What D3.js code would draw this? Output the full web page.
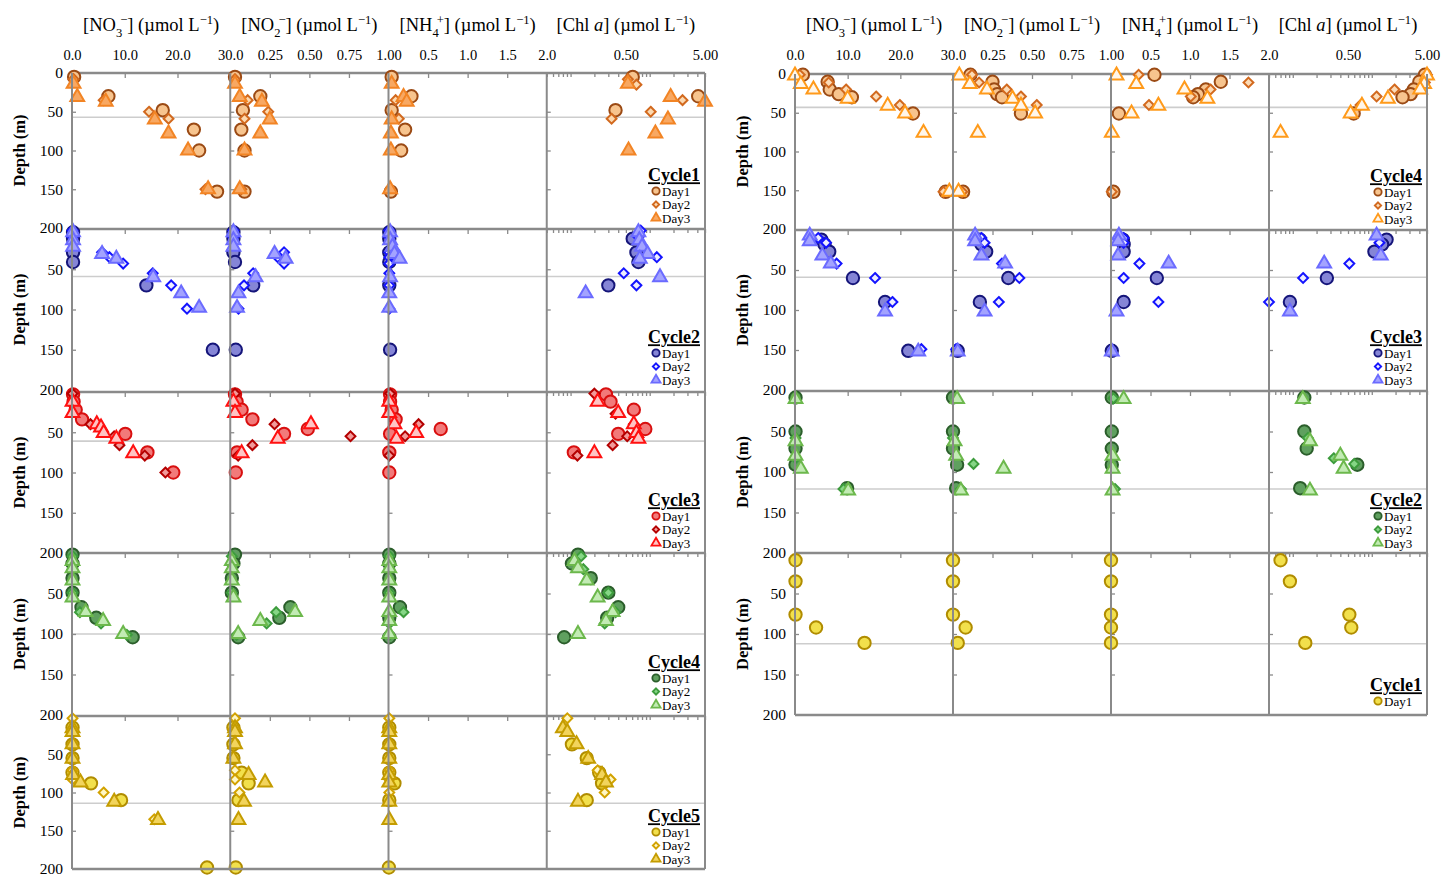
<!DOCTYPE html>
<html>
<head>
<meta charset="utf-8">
<script src="https://cdn.jsdelivr.net/npm/d3@7"></script>
<style>
  body { margin: 0; background: #fff; }
  svg text { font-family: "Liberation Serif", "Times New Roman", serif; fill: #000; }
</style>
</head>
<body>
<script>
// each row: [depth (m), NO3, NO2, NH4, Chl a]
const L1_day1 = [[5,0.4,0.03,0.04,0.61],[30,6.9,0.19,0.29,4.1],[48,17.2,0.08,0.04,0.37],[73,23.1,0.07,0.21,null],[100,24.1,0.09,0.16,null],[153,27.5,0.09,0.03,null]];
const L1_day2 = [[8,0.3,0.03,null,0.53],[15,null,null,null,0.68],[35,6.0,0.11,0.09,2.6],[50,14.6,0.24,null,1.03],[59,18.3,0.09,0.13,0.33],[150,25.3,0.07,null,null]];
const L1_day3 = [[14,0.3,0.03,0.04,0.53],[31,1.0,0.06,0.19,1.84],[37,6.4,0.20,0.23,5.0],[60,15.7,0.25,0.04,1.7],[78,18.3,0.19,0.03,1.18],[100,22.0,0.09,0.03,0.54],[150,25.8,0.06,0.02,null]];

const L2_day1 = [[4,0.2,0.02,0.01,null],[12,0.2,0.02,0.01,0.61],[29,0.2,0.02,0.01,0.68],[41,0.2,0.03,0.01,0.72],[70,14.1,0.145,0.01,0.30],[150,26.7,0.035,0.02,null]];
const L2_day2 = [[2,0.1,0.02,0.01,0.77],[10,0.1,0.02,0.01,0.72],[29,5.7,0.34,0.01,null],[35,7.1,0.30,0.01,1.23],[43,9.7,0.34,0.01,null],[55,15.3,0.145,0.01,0.47],[70,18.8,0.087,0.01,0.68],[99,21.8,0.052,0.01,null]];
const L2_day3 = [[4,0.2,0.02,0.02,0.72],[14,0.2,0.02,0.02,0.74],[22,0.2,0.02,0.05,0.80],[31,5.7,0.28,0.075,0.94],[37,8.4,0.35,0.14,0.75],[60,15.4,0.16,0.02,1.35],[80,20.7,0.052,0.01,0.155],[98,24.1,0.043,0.01,null]];

const L3_day1 = [[3,0.2,0.03,0.02,0.28],[12,0.3,0.04,0.02,0.32],[22,0.7,0.072,0.04,0.63],[34,1.9,0.14,0.09,null],[46,null,0.49,0.66,0.88],[52,10.1,0.34,0.02,0.40],[75,14.3,0.043,0.01,0.11],[100,19.2,0.035,0.01,null]];
const L3_day2 = [[2,0.1,0.03,0.02,0.20],[27,null,null,null,0.37],[40,3.5,0.28,0.38,0.63],[55,8.0,0.76,0.21,0.52],[66,9.0,0.14,null,0.34],[79,13.8,0.05,0.01,0.122],[100,17.7,null,null,null]];
const L3_day3 = [[12,0.1,0.02,0.01,0.22],[26,0.1,0.03,0.01,0.40],[40,4.7,0.51,0.075,0.63],[44,5.5,null,null,null],[51,6.0,null,0.35,0.68],[58,8.4,0.30,0.10,0.72],[76,11.6,0.072,null,0.20]];

const L4_day1 = [[2,0.1,0.03,0.01,0.124],[13,0.1,0.02,0.01,0.104],[31,0.1,0.01,0.01,0.18],[49,0.1,0.01,0.01,0.30],[67,1.8,0.38,0.145,0.40],[80,4.6,0.31,0.01,0.29],[104,11.5,0.05,0.01,0.083]];
const L4_day2 = [[4,0.1,0.01,0.01,0.136],[20,0.1,0.01,0.01,0.145],[49,0.1,0.01,0.01,0.30],[73,1.5,0.29,0.19,0.37],[87,5.5,0.23,0.01,0.27],[101,10.4,0.04,0.01,null]];
const L4_day3 = [[10,0.1,0.01,0.01,0.112],[19,0.1,0.01,0.01,0.124],[34,0.1,0.01,0.01,0.16],[55,0.1,0.02,0.01,0.22],[73,2.6,0.41,0.01,0.34],[84,5.9,0.19,0.01,0.28],[100,9.7,0.05,0.01,0.124]];

const L5_day1 = [[15,0.1,0.02,0.01,null],[37,0.1,0.02,0.01,0.104],[55,0.1,0.02,0.01,0.16],[74,0.1,0.072,0.01,0.23],[88,3.6,0.116,0.075,0.25],[110,9.3,0.052,0.01,0.16],[198,25.6,0.035,0.005,null]];
const L5_day2 = [[3,0.1,0.03,0.01,0.091],[17,0.1,0.02,0.01,null],[71,0.1,0.03,0.01,0.22],[83,0.1,0.03,0.01,0.32],[100,6.0,0.058,0.01,0.27],[135,15.6,null,null,null]];
const L5_day3 = [[16,0.1,0.03,0.01,0.08],[21,0.1,0.03,0.01,0.091],[37,0.1,0.03,0.01,0.119],[56,0.1,0.02,0.01,0.167],[77,0.2,0.116,0.01,0.25],[87,1.6,0.22,0.01,0.28],[112,8.0,0.087,0.01,0.124],[136,16.3,0.052,0.01,null]];

const R4_day1 = [[1,1.5,0.11,0.55,4.7],[10,6.2,0.25,1.39,4.0],[20,6.6,0.26,1.2,3.4],[26,8.3,0.28,1.1,3.1],[30,10.8,0.31,1.04,2.45],[51,22.4,0.43,0.1,0.59],[152,28.6,0.064,0.03,null]];
const R4_day2 = [[1,0.9,0.12,0.35,5.0],[11,6.4,0.165,1.74,4.7],[20,9.7,0.34,1.26,1.94],[29,15.4,0.43,1.01,1.15],[40,19.9,0.53,0.48,0.72],[152,28.2,0.058,0.01,null]];
const R4_day3 = [[2,0.0,0.04,0.07,5.0],[13,1.1,0.107,0.32,4.6],[20,3.5,0.215,0.93,4.1],[32,10.0,0.377,1.22,1.6],[41,17.6,0.43,0.6,0.75],[51,20.9,0.52,0.26,0.54],[76,24.4,0.157,0.01,0.07],[152,29.3,0.035,null,null]];

const R3_day1 = [[12,5.0,0.17,0.15,1.54],[18,5.6,0.18,0.16,1.35],[27,6.5,0.21,0.16,1.08],[60,11.0,0.35,0.58,0.27],[90,17.1,0.17,0.16,0.092],[151,21.5,0.03,0.01,null]];
const R3_day2 = [[10,4.4,0.18,0.16,null],[16,5.9,0.20,0.16,1.25],[42,7.9,0.31,0.36,0.52],[60,15.2,0.42,0.16,0.135],[90,18.5,0.29,0.6,0.05],[149,24.0,0.02,null,null]];
const R3_day3 = [[7,2.8,0.14,0.1,1.15],[14,2.8,0.14,0.09,null],[32,5.2,0.18,0.09,1.3],[42,6.8,0.33,0.73,0.25],[102,17.1,0.2,0.07,0.092],[152,23.4,0.03,0.01,null]];

const R2_day1 = [[8,0.1,0.0,0.01,0.14],[50,0.1,0.0,0.01,0.14],[71,0.1,0.0,0.01,0.15],[91,0.1,0.026,0.01,0.656],[120,9.9,0.02,null,0.124]];
const R2_day2 = [[9,null,null,0.03,null],[58,0.1,0.0,null,0.155],[83,0.1,null,null,0.33],[90,null,0.13,null,0.6],[121,9.2,0.05,0.05,null]];
const R2_day3 = [[10,0.1,0.026,0.16,0.134],[62,0.1,0.01,null,0.165],[80,0.1,0.02,0.02,0.40],[96,1.1,0.32,0.02,0.44],[123,10.1,0.05,0.02,0.165]];

const R1_day1 = [[9,0.1,0.0,0.0,0.07],[35,0.1,0.0,0.0,0.092],[76,0.1,0.0,0.0,0.52],[92,4.0,0.08,0.0,0.55],[111,13.2,0.03,0.0,0.144]];

const leftCycles = ['Cycle1', 'Cycle2', 'Cycle3', 'Cycle4', 'Cycle5'];
const rightCycles = ['Cycle4', 'Cycle3', 'Cycle2', 'Cycle1'];
const dayLabels = ['Day1', 'Day2', 'Day3'];
const leftMld = [57, 59, 61, 100, 114];
const rightMld = [43, 59, 121, 112];

const depthTicks = [0, 50, 100, 150, 200];
const xDomains = [[0, 30], [0, 1], [0, 2], [0.05, 5]];
const xLabelTicks = [[0, 10, 20, 30], [0.25, 0.5, 0.75, 1], [0.5, 1, 1.5, 2], [0.5, 5]];
const xLabelFormats = ['.1f', '.2f', '.1f', '.2f'];

const palettes = {
  orange: [{fill: '#f7c48e', stroke: '#9b4a14'}, {fill: '#fcd9b0', stroke: '#d2691e'}, {fill: '#f8a862', stroke: '#f28424'}],
  orangeOpen: [{fill: '#f7c48e', stroke: '#9b4a14'}, {fill: '#fcdcb8', stroke: '#d2691e'}, {fill: '#fff6ea', stroke: '#ff9a1a'}],
  blue: [{fill: '#8585d6', stroke: '#15157a'}, {fill: '#eeeeff', stroke: '#1414ff'}, {fill: '#a3a3ff', stroke: '#6b6bff'}],
  red: [{fill: '#f27a7a', stroke: '#d80f0f'}, {fill: '#f29a9a', stroke: '#b40000'}, {fill: '#ffc4c4', stroke: '#ff1010'}],
  green: [{fill: '#5fa05f', stroke: '#2b5e2b'}, {fill: '#86d686', stroke: '#3d9c3d'}, {fill: '#c2ebb4', stroke: '#6cb84c'}],
  gold: [{fill: '#f2e04c', stroke: '#b08c00'}, {fill: '#fff7c4', stroke: '#d2a200'}, {fill: '#f2d45c', stroke: '#c49c00'}]
};

const panels = [
  {x0: 72, x1: 705, tops: [73, 229, 392, 553, 716], bottoms: [228, 390, 553, 715, 869],
   cycles: leftCycles, mld: leftMld, pal: ['orange', 'blue', 'red', 'green', 'gold'],
   days: [[L1_day1, L1_day2, L1_day3], [L2_day1, L2_day2, L2_day3], [L3_day1, L3_day2, L3_day3],
          [L4_day1, L4_day2, L4_day3], [L5_day1, L5_day2, L5_day3]]},
  {x0: 795, x1: 1427, tops: [74, 230, 391, 553], bottoms: [229, 390, 553, 715],
   cycles: rightCycles, mld: rightMld, pal: ['orangeOpen', 'blue', 'green', 'gold'],
   days: [[R4_day1, R4_day2, R4_day3], [R3_day1, R3_day2, R3_day3], [R2_day1, R2_day2, R2_day3], [R1_day1]]}
];

const titleParts = [
  [{t: '[NO'}, {t: '3', sub: 1}, {t: '−', sup: 1, dx: -2}, {t: '] (µmol L'}, {t: '−1', sup: 1}, {t: ')'}],
  [{t: '[NO'}, {t: '2', sub: 1}, {t: '−', sup: 1, dx: -2}, {t: '] (µmol L'}, {t: '−1', sup: 1}, {t: ')'}],
  [{t: '[NH'}, {t: '4', sub: 1}, {t: '+', sup: 1, dx: -2}, {t: '] (µmol L'}, {t: '−1', sup: 1}, {t: ')'}],
  [{t: '[Chl '}, {t: 'a', it: 1}, {t: '] (µmol L'}, {t: '−1', sup: 1}, {t: ')'}]
];

const symbols = [d3.symbolCircle, d3.symbolDiamond2, d3.symbolTriangle];
const symSizes = [120, 62, 82];
const legSizes = [42, 26, 36];
const frameColor = '#8a8a8a';

const svg = d3.select('body').append('svg').attr('width', 1441).attr('height', 876);

function richText(g, x, y, parts, size) {
  const t = g.append('text').attr('x', x).attr('y', y)
    .attr('text-anchor', 'middle').style('font-size', size + 'px');
  let shift = 0;
  parts.forEach(p => {
    const target = p.sub ? 6 : p.sup ? -7 : 0;
    const ts = t.append('tspan').text(p.t).attr('dy', target - shift);
    if (p.sub || p.sup) ts.style('font-size', (size * 0.68) + 'px');
    if (p.dx) ts.attr('dx', p.dx);
    if (p.it) ts.style('font-style', 'italic');
    shift = target;
  });
}

panels.forEach(panel => {
  const cw = (panel.x1 - panel.x0) / 4;
  const edges = d3.range(5).map(i => panel.x0 + i * cw);
  const xScales = xDomains.map((dom, i) => {
    const s = i === 3 ? d3.scaleLog() : d3.scaleLinear();
    return s.domain(dom).range([edges[i], edges[i + 1]]);
  });
  const g = svg.append('g');
  const nRows = panel.tops.length;
  const yTop = panel.tops[0], yBot = panel.bottoms[nRows - 1];

  // column titles + top tick labels
  titleParts.forEach((parts, i) => richText(g, (edges[i] + edges[i + 1]) / 2, 31, parts, 18.5));
  xScales.forEach((s, i) => {
    const ax = g.append('g').attr('transform', `translate(0, 62)`)
      .call(d3.axisTop(s).tickValues(xLabelTicks[i]).tickFormat(d3.format(xLabelFormats[i])).tickSize(0).tickPadding(2));
    ax.select('.domain').remove();
    ax.selectAll('text').style('font-size', '14.5px').style('font-family', '"Liberation Serif", serif');
  });

  panel.tops.forEach((top, r) => {
    const bottom = panel.bottoms[r];
    const y = d3.scaleLinear().domain([0, 200]).range([top, bottom]);
    const row = g.append('g');

    // mixed layer line
    row.append('line')
      .attr('x1', panel.x0).attr('x2', panel.x1)
      .attr('y1', y(panel.mld[r])).attr('y2', y(panel.mld[r]))
      .attr('stroke', '#cdcdcd').attr('stroke-width', 1.6);

    // depth axis labels
    const yAx = row.append('g').attr('transform', `translate(${panel.x0}, 0)`)
      .call(d3.axisLeft(y).tickValues(r === 0 ? depthTicks : depthTicks.slice(1)).tickSize(0).tickPadding(9));
    yAx.select('.domain').remove();
    yAx.selectAll('text').style('font-size', '15.5px').style('font-family', '"Liberation Serif", serif');

    row.append('text')
      .attr('transform', `translate(${panel.x0 - 47}, ${(top + bottom) / 2}) rotate(-90)`)
      .attr('text-anchor', 'middle')
      .style('font-size', '16.5px').style('font-weight', 'bold')
      .text('Depth (m)');

    // inner ticks
    xScales.forEach((s, i) => {
      const vals = i === 3 ? s.ticks() : xLabelTicks[i].filter(v => v > 0 && v < xDomains[i][1]);
      const tk = row.append('g').attr('transform', `translate(0, ${top})`)
        .call(d3.axisBottom(s).tickValues(vals).tickSize(i === 3 ? 4 : 5).tickFormat(''));
      tk.select('.domain').remove();
      tk.selectAll('line').attr('stroke', frameColor).attr('stroke-width', 1.3);
      const yt = row.append('g').attr('transform', `translate(${edges[i]}, 0)`)
        .call(d3.axisRight(y).tickValues([50, 100, 150]).tickSize(4).tickFormat(''));
      yt.select('.domain').remove();
      yt.selectAll('line').attr('stroke', frameColor).attr('stroke-width', 1.3);
    });

    row.append('line')
      .attr('x1', panel.x0).attr('x2', panel.x1).attr('y1', top).attr('y2', top)
      .attr('stroke', frameColor).attr('stroke-width', 2.6);

    // markers
    const pal = palettes[panel.pal[r]];
    panel.days[r].forEach((rows, d) => {
      xScales.forEach((s, i) => {
        row.selectAll(null)
          .data(rows.filter(v => v[i + 1] !== null))
          .enter().append('path')
          .attr('d', d3.symbol().type(symbols[d]).size(symSizes[d]))
          .attr('transform', v => `translate(${s(i === 3 ? Math.max(v[i + 1], 0.05) : v[i + 1])}, ${y(v[0])})`)
          .attr('fill', pal[d].fill)
          .attr('stroke', pal[d].stroke)
          .attr('stroke-width', 2);
      });
    });

    // legend
    const nd = panel.days[r].length;
    const dayY = d3.range(nd).map(d => bottom - 10 - (nd - 1 - d) * 13.5 - (nd === 1 ? 4 : 0));
    row.append('text')
      .attr('x', panel.x1 - 5).attr('y', dayY[0] - 16).attr('dy', '0.35em')
      .attr('text-anchor', 'end')
      .style('font-size', '18px').style('font-weight', 'bold').style('text-decoration', 'underline')
      .text(panel.cycles[r]);
    dayY.forEach((yy, d) => {
      row.append('path')
        .attr('d', d3.symbol().type(symbols[d]).size(legSizes[d]))
        .attr('transform', `translate(${panel.x1 - 49}, ${yy})`)
        .attr('fill', pal[d].fill).attr('stroke', pal[d].stroke).attr('stroke-width', 1.8);
      row.append('text')
        .attr('x', panel.x1 - 43).attr('y', yy).attr('dy', '0.35em')
        .style('font-size', '13px')
        .text(dayLabels[d]);
    });
  });

  // frame
  g.append('line')
    .attr('x1', panel.x0).attr('x2', panel.x1).attr('y1', yBot).attr('y2', yBot)
    .attr('stroke', frameColor).attr('stroke-width', 2.6);
  edges.forEach(x => {
    g.append('line')
      .attr('x1', x).attr('x2', x).attr('y1', yTop).attr('y2', yBot)
      .attr('stroke', frameColor).attr('stroke-width', 2);
  });
});
</script>
</body>
</html>
